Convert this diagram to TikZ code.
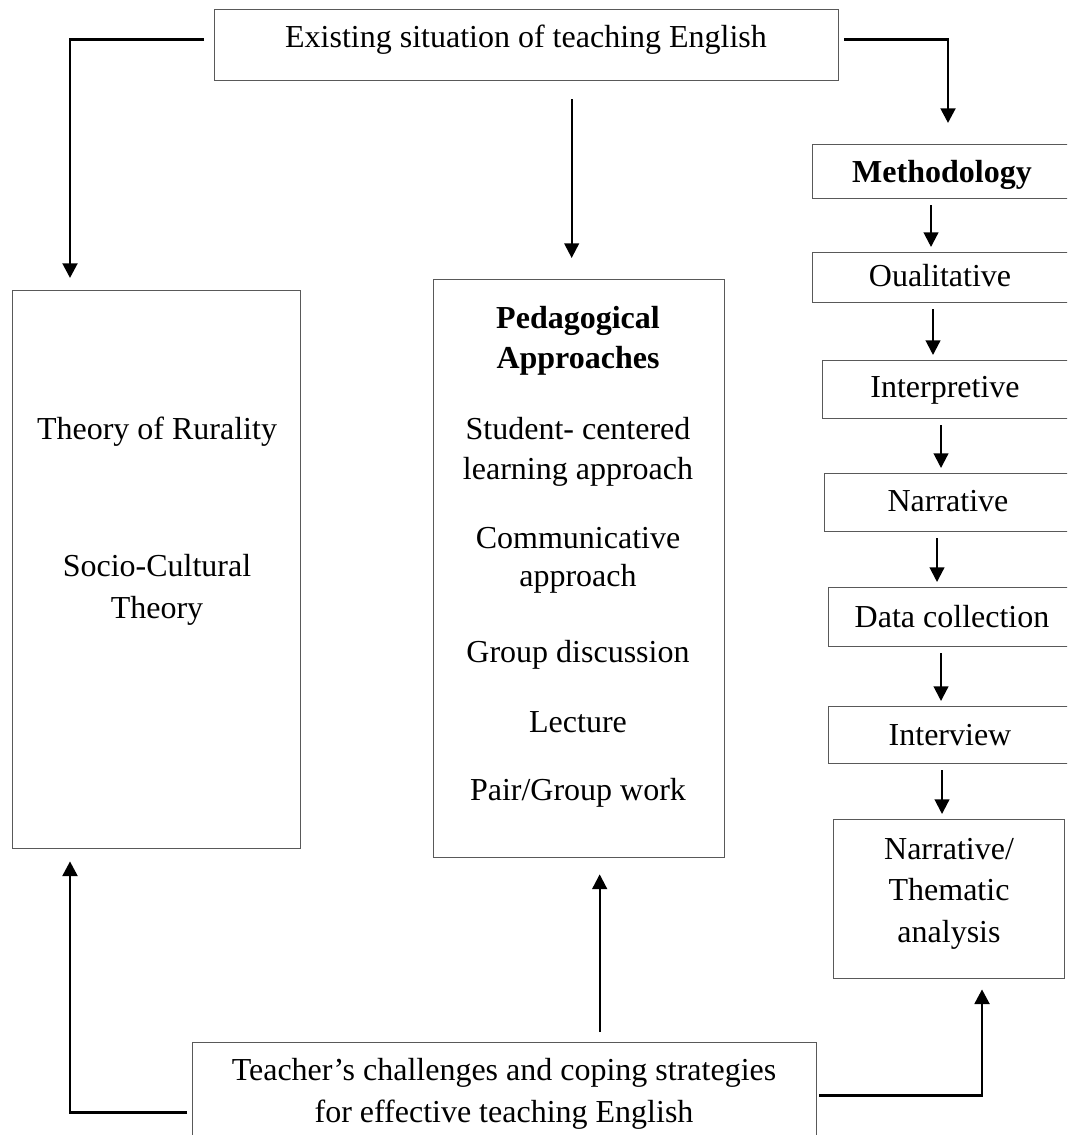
\documentclass[tikz,border=0pt]{standalone}
\usepackage{fontspec}
\setmainfont{Liberation Serif}
\usetikzlibrary{arrows.meta}
\newcommand{\pxu}{0.375pt}
\tikzset{
  box/.style={draw=black!65, line width=.5pt, inner sep=0pt, anchor=north west},
  txt/.style={anchor=base, align=center, inner sep=0pt, font=\fontsize{12}{15.5}\selectfont},
  arr/.style={black, line width=.8pt, -{Triangle[length=5.5pt,width=5.5pt]}},
  elbow/.style={arr, line width=1.1pt}
}

\begin{document}
\begin{tikzpicture}[x=\pxu, y=-\pxu]
\useasboundingbox (0,0) rectangle (1067,1135);
\clip (0,0) rectangle (1067,1135);

% boxes
\node[box, minimum width=624*\pxu, minimum height=71*\pxu] (top) at (214,9) {};
\node[box, minimum width=288*\pxu, minimum height=558*\pxu] (rural) at (12,290) {};
\node[box, minimum width=291*\pxu, minimum height=578*\pxu] (peda) at (433,279) {};
\node[box, minimum width=263*\pxu, minimum height=54*\pxu] (meth) at (812,144) {};
\node[box, minimum width=263*\pxu, minimum height=50*\pxu] (qual) at (812,252) {};
\node[box, minimum width=253*\pxu, minimum height=58*\pxu] (interp) at (822,360) {};
\node[box, minimum width=251*\pxu, minimum height=58*\pxu] (narr) at (824,473) {};
\node[box, minimum width=247*\pxu, minimum height=59*\pxu] (data) at (828,587) {};
\node[box, minimum width=247*\pxu, minimum height=57*\pxu] (intv) at (828,706) {};
\node[box, minimum width=231*\pxu, minimum height=159*\pxu] (anal) at (833,819) {};
\node[box, minimum width=624*\pxu, minimum height=120*\pxu] (teach) at (192,1042) {};

% texts (multi-line: placed at the baseline of the last line)
\node[txt] (toptxt) at (526,48) {Existing situation of teaching English};
\node[txt] (ruraltxt) at (157,440) {Theory of Rurality};
\node[txt] (sociotxt) at (157,618) {Socio-Cultural\\Theory};
\node[txt, font=\bfseries\fontsize{12}{15}\selectfont] (pedtxt) at (578,369) {Pedagogical\\Approaches};
\node[txt, font=\fontsize{12}{15}\selectfont] (studtxt) at (578,480) {Student- centered\\learning approach};
\node[txt, font=\fontsize{12}{14.3}\selectfont] (commtxt) at (578,587) {Communicative\\approach};
\node[txt] (grptxt) at (578,662) {Group discussion};
\node[txt] (lecttxt) at (578,732) {Lecture};
\node[txt] (pairtxt) at (578,800) {Pair/Group work};
\node[txt, font=\bfseries\fontsize{12}{15.5}\selectfont] (methtxt) at (942,183) {Methodology};
\node[txt] (qualtxt) at (940,287) {Oualitative};
\node[txt] (interptxt) at (945,398) {Interpretive};
\node[txt] (narrtxt) at (948,512) {Narrative};
\node[txt] (datatxt) at (952,627) {Data collection};
\node[txt] (intvtxt) at (950,745) {Interview};
\node[txt] (analtxt) at (949,942) {Narrative/\\Thematic\\analysis};
\node[txt] (teachtxt) at (504,1122) {Teacher’s challenges and coping strategies\\for effective teaching English};

% from the top box
\draw[elbow] ([shift={(-10,-6)}]top.west) -| ([shift={(58,-12)}]rural.north west);
\draw[arr] ([shift={(45,18)}]top.south) -- ([shift={(-7.5,-21)}]peda.north);
\draw[elbow] ([shift={(5,-6)}]top.east) -| ([shift={(136,-21)}]meth.north west);

% methodology chain
\foreach \a/\b/\dx in {meth/qual/119, qual/interp/121, interp/narr/119, narr/data/113, data/intv/113, intv/anal/114}
  \draw[arr] ([shift={(\dx,6)}]\a.south west) -- ([shift={(\dx,-5)}]\a.south west |- \b.north);

% from the bottom box
\draw[elbow] ([shift={(-5,10)}]teach.west) -| ([shift={(58,12)}]rural.south west);
\draw[arr] ([shift={(95,-10)}]teach.north) -- ([shift={(20.5,16)}]peda.south);
\draw[elbow] ([shift={(2,-7)}]teach.east) -| ([shift={(149,10)}]anal.south west);
\end{tikzpicture}
\end{document}
